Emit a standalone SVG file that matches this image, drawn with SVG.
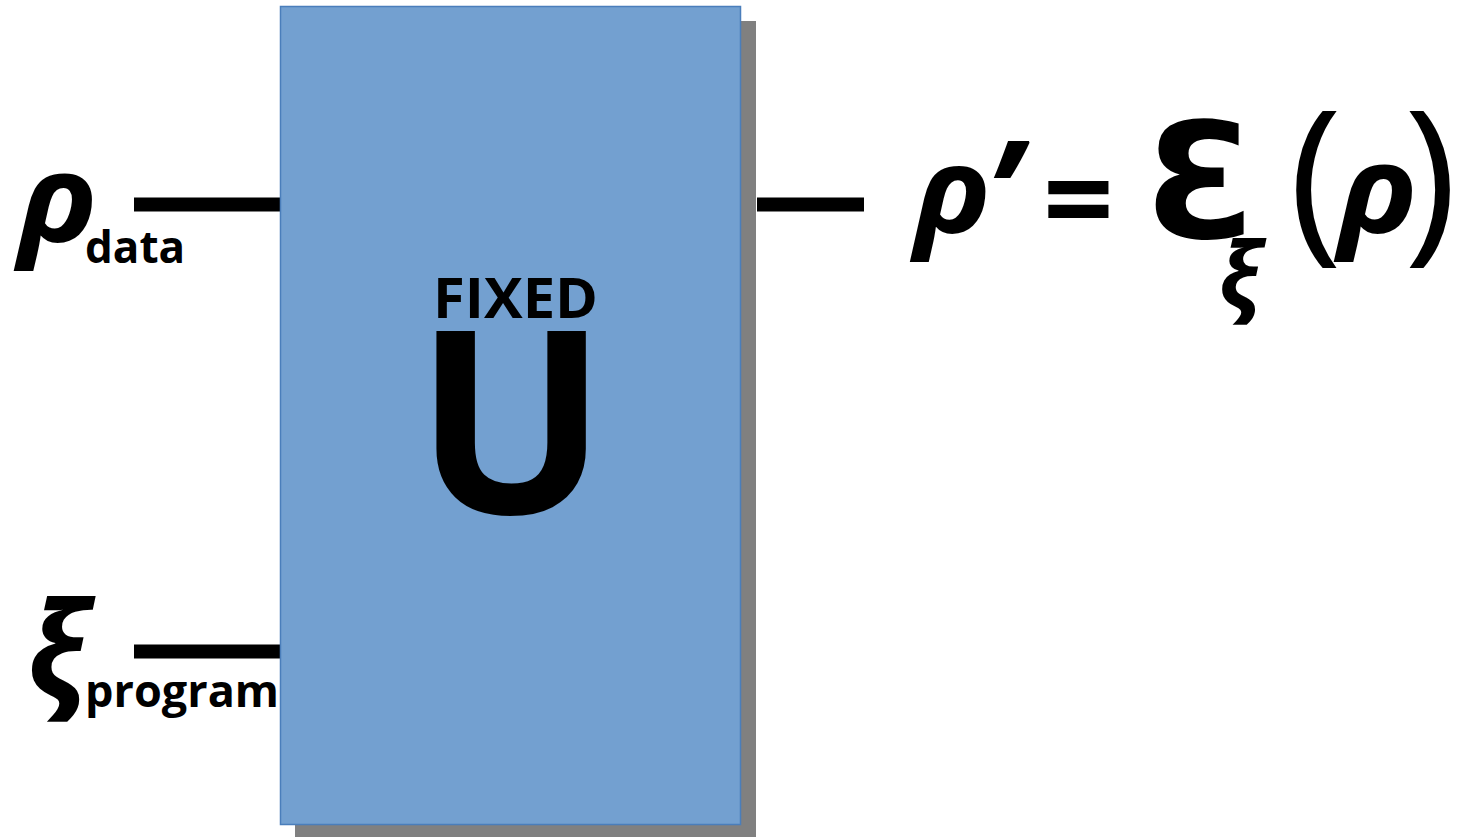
<svg xmlns="http://www.w3.org/2000/svg" width="1461" height="837" viewBox="0 0 1461 837">
<style>
.t{font-family:"Open Sans","DejaVu Sans",sans-serif;font-weight:bold;fill:#000}
.g{font-style:italic}
.n{font-weight:normal}
.w{stroke:#000;stroke-width:14;fill:none}
</style>
<rect width="1461" height="837" fill="#fff"/>
<g id="connectors">
<line class="w" x1="134" y1="204.5" x2="280" y2="204.5"/>
<line class="w" x1="134" y1="651.5" x2="280" y2="651.5"/>
<line class="w" x1="757" y1="204.5" x2="864" y2="204.5"/>
</g>
<g id="node-U">
<rect x="295" y="21" width="461" height="820" fill="#808080"/>
<rect x="280.5" y="6.5" width="460" height="818" fill="#73A0D0" stroke="#4A7EBB" stroke-width="1.5"/>
<text class="t" x="433" y="318" font-size="56" textLength="165" lengthAdjust="spacingAndGlyphs">FIXED</text>
<text class="t" x="511" y="514" font-size="255" text-anchor="middle">U</text>
</g>
<g id="node-rho-data">
<text class="t g" x="18" y="242" font-size="122" transform="translate(18 0) scale(1.1 1) translate(-18 0)">ρ</text>
<text class="t" x="85" y="263" font-size="44">data</text>
</g>
<g id="node-xi-program">
<text class="t g" x="26" y="697" font-size="132">ξ</text>
<text class="t" x="85" y="707" font-size="45">program</text>
</g>
<g id="node-output">
<text class="t g" x="914" y="233" font-size="120" transform="translate(914 0) scale(1.08 1) translate(-914 0)">ρ</text>
<text class="t g" x="986" y="249" font-size="150">’</text>
<text class="t" x="1043" y="243" font-size="124">=</text>
<text class="t" x="1145" y="238" font-size="160">Ɛ</text>
<text class="t g" x="1218" y="308" font-size="92">ξ</text>
<text class="t n" x="1289" y="240" font-size="180">(</text>
<text class="t g" x="1338" y="233" font-size="122" transform="translate(1338 0) scale(1.1 1) translate(-1338 0)">ρ</text>
<text class="t n" x="1404" y="240" font-size="180">)</text>
</g>
</svg>
